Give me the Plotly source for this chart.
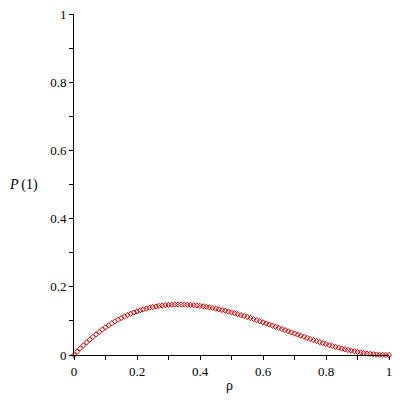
import plotly.graph_objects as go

rho = [0.00, 0.01, 0.02, 0.03, 0.04, 0.05, 0.06, 0.07, 0.08, 0.09,
       0.10, 0.11, 0.12, 0.13, 0.14, 0.15, 0.16, 0.17, 0.18, 0.19,
       0.20, 0.21, 0.22, 0.23, 0.24, 0.25, 0.26, 0.27, 0.28, 0.29,
       0.30, 0.31, 0.32, 0.33, 0.34, 0.35, 0.36, 0.37, 0.38, 0.39,
       0.40, 0.41, 0.42, 0.43, 0.44, 0.45, 0.46, 0.47, 0.48, 0.49,
       0.50, 0.51, 0.52, 0.53, 0.54, 0.55, 0.56, 0.57, 0.58, 0.59,
       0.60, 0.61, 0.62, 0.63, 0.64, 0.65, 0.66, 0.67, 0.68, 0.69,
       0.70, 0.71, 0.72, 0.73, 0.74, 0.75, 0.76, 0.77, 0.78, 0.79,
       0.80, 0.81, 0.82, 0.83, 0.84, 0.85, 0.86, 0.87, 0.88, 0.89,
       0.90, 0.91, 0.92, 0.93, 0.94, 0.95, 0.96, 0.97, 0.98, 0.99,
       1.00]

p1 = [0.0000, 0.0098, 0.0192, 0.0282, 0.0369, 0.0451, 0.0530, 0.0605, 0.0677, 0.0745,
      0.0810, 0.0871, 0.0929, 0.0984, 0.1035, 0.1084, 0.1129, 0.1171, 0.1210, 0.1247,
      0.1280, 0.1311, 0.1338, 0.1364, 0.1386, 0.1406, 0.1424, 0.1439, 0.1452, 0.1462,
      0.1470, 0.1476, 0.1480, 0.1481, 0.1481, 0.1479, 0.1475, 0.1469, 0.1461, 0.1451,
      0.1440, 0.1427, 0.1413, 0.1397, 0.1380, 0.1361, 0.1341, 0.1320, 0.1298, 0.1274,
      0.1250, 0.1225, 0.1198, 0.1171, 0.1143, 0.1114, 0.1084, 0.1054, 0.1023, 0.0992,
      0.0960, 0.0928, 0.0895, 0.0862, 0.0829, 0.0796, 0.0763, 0.0730, 0.0696, 0.0663,
      0.0630, 0.0597, 0.0564, 0.0532, 0.0500, 0.0469, 0.0438, 0.0407, 0.0378, 0.0348,
      0.0320, 0.0292, 0.0266, 0.0240, 0.0215, 0.0191, 0.0169, 0.0147, 0.0127, 0.0108,
      0.0090, 0.0074, 0.0059, 0.0046, 0.0034, 0.0024, 0.0015, 0.0009, 0.0004, 0.0001,
      0.0000]

tick_vals = [0, 0.2, 0.4, 0.6, 0.8, 1]
tick_text = ["0", "0.2", "0.4", "0.6", "0.8", "1"]

serif = "Liberation Serif"

fig = go.Figure()
fig.add_trace(go.Scatter(
    x=rho, y=p1, mode="markers",
    marker=dict(symbol="diamond-open", size=4, color="#d00000", line=dict(width=1)),
    showlegend=False, cliponaxis=False,
))

axis_common = dict(
    range=[0, 1], showline=True, linecolor="black", linewidth=1,
    showgrid=False, zeroline=False, ticks="outside", ticklen=4, tickwidth=1,
    tickcolor="black", tickvals=tick_vals, ticktext=tick_text,
    tickfont=dict(family=serif, size=13, color="black"),
    minor=dict(ticks="outside", ticklen=4, tickwidth=1, tickcolor="black", dtick=0.1, tick0=0),
    fixedrange=True, automargin=False,
)
fig.update_layout(
    width=400, height=400,
    margin=dict(l=74, r=11, t=14, b=45),
    paper_bgcolor="white", plot_bgcolor="white",
    font=dict(family=serif, color="black"),
    xaxis=dict(**axis_common),
    yaxis=dict(**axis_common),
    annotations=[
        dict(text="<i>P</i>\u2009(1)", xref="paper", yref="paper", x=-0.159, y=0.5,
             xanchor="center", yanchor="middle",
             showarrow=False, font=dict(family=serif, size=14, color="black")),
        dict(text="ρ", xref="paper", yref="paper", x=0.495, y=-0.09,
             xanchor="center", yanchor="middle",
             showarrow=False, font=dict(family=serif, size=14, color="black")),
    ],
)
fig.write_html("out.html", config={"displayModeBar": False},
               post_script="document.body.style.margin='0';")
